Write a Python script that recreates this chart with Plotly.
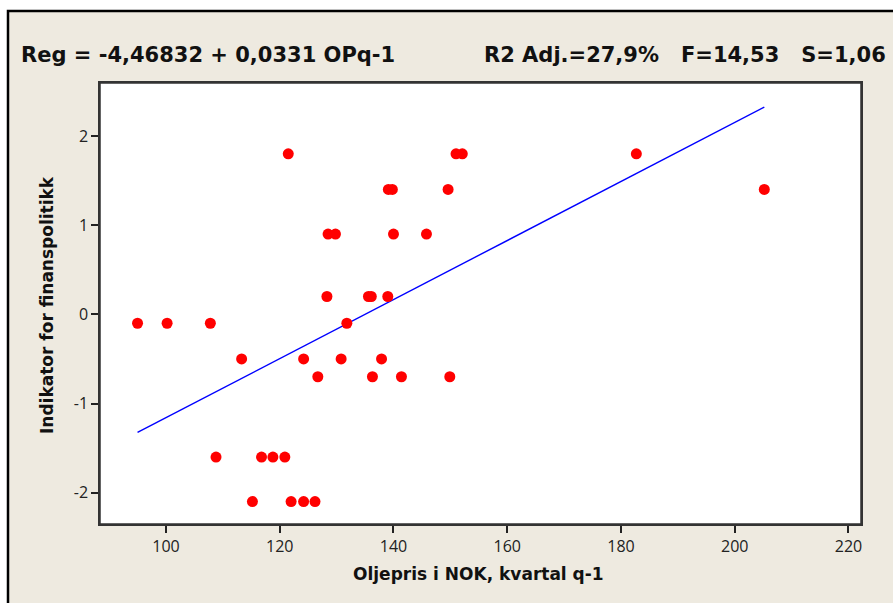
import plotly.graph_objects as go

# Data
oil_price = [121.5, 151.0, 152.1, 182.7,
             139.1, 139.8, 149.6, 205.2,
             128.5, 129.8, 140.0, 145.8,
             128.3, 135.6, 136.1, 139.0,
             95.0, 100.2, 107.8, 131.8,
             113.3, 124.2, 130.8, 137.9,
             126.7, 136.3, 141.4, 149.9,
             108.8, 116.8, 118.8, 120.9,
             115.2, 122.0, 124.2, 126.2]
indicator = [1.8, 1.8, 1.8, 1.8,
             1.4, 1.4, 1.4, 1.4,
             0.9, 0.9, 0.9, 0.9,
             0.2, 0.2, 0.2, 0.2,
             -0.1, -0.1, -0.1, -0.1,
             -0.5, -0.5, -0.5, -0.5,
             -0.7, -0.7, -0.7, -0.7,
             -1.6, -1.6, -1.6, -1.6,
             -2.1, -2.1, -2.1, -2.1]
intercept = -4.46832
slope = 0.0331
x_ticks = [100, 120, 140, 160, 180, 200, 220]
y_ticks = [-2, -1, 0, 1, 2]
y_tick_labels = ["-2", "-1", "0", "1", "2"]

title_left = "Reg = -4,46832 + 0,0331 OPq-1"
title_right = "R2 Adj.=27,9%   F=14,53   S=1,06"
x_title = "Oljepris i NOK, kvartal q-1"
y_title = "Indikator for finanspolitikk"

fit_x = [min(oil_price), max(oil_price)]
fit_y = [intercept + slope * v for v in fit_x]

W, H = 893, 603
L, R, T, B = 100, 32, 83, 79
pw, ph = W - L - R, H - T - B


def px_x(p):
    return (p - L) / pw


def px_y(p):
    return (H - B - p) / ph


BG = "#EEEAE0"

fig = go.Figure()
fig.add_trace(go.Scatter(x=fit_x, y=fit_y, mode="lines",
                         line=dict(color="#0000FF", width=1.4),
                         hoverinfo="skip", showlegend=False))
fig.add_trace(go.Scatter(x=oil_price, y=indicator, mode="markers",
                         marker=dict(color="#FF0000", size=11, line=dict(width=0)),
                         showlegend=False))

shapes = [
    dict(type="rect", xref="paper", yref="paper", layer="below",
         x0=px_x(8), x1=px_x(905), y0=px_y(620), y1=px_y(11),
         fillcolor=BG, line=dict(color="black", width=2.5)),
    dict(type="rect", xref="paper", yref="paper", layer="below",
         x0=0, x1=1, y0=0, y1=1, fillcolor="white",
         line=dict(color="#333333", width=1.5)),
]

tick_font = dict(family="Open Sans, Noto Sans, sans-serif", size=16, color="#222222")
title_font = dict(family="DejaVu Sans, sans-serif", size=21, color="#111111")
axis_title_font = dict(family="DejaVu Sans, sans-serif", size=17, color="#111111")

annotations = [
    dict(text="<b>" + title_left + "</b>", xref="paper", yref="paper",
         x=px_x(19), y=px_y(55), xanchor="left", yanchor="middle",
         showarrow=False, font=title_font),
    dict(text="<b>" + title_right + "</b>", xref="paper", yref="paper",
         x=px_x(888), y=px_y(55), xanchor="right", yanchor="middle",
         showarrow=False, font=title_font),
    dict(text="<b>" + x_title + "</b>", xref="paper", yref="paper",
         x=px_x(478), y=px_y(574), xanchor="center", yanchor="middle",
         showarrow=False, font=axis_title_font),
    dict(text="<b>" + y_title + "</b>", xref="paper", yref="paper",
         x=px_x(47), y=px_y(305), xanchor="center", yanchor="middle",
         textangle=-90, showarrow=False, font=axis_title_font),
]

fig.update_layout(
    width=W, height=H,
    margin=dict(l=L, r=R, t=T, b=B, pad=0),
    paper_bgcolor="white",
    plot_bgcolor="rgba(0,0,0,0)",
    shapes=shapes,
    annotations=annotations,
    xaxis=dict(range=[88.4, 222.2], tickvals=x_ticks, ticks="outside",
               ticklen=7, tickwidth=1.5, tickcolor="#222222",
               showgrid=False, zeroline=False, showline=True,
               linecolor="#333333", linewidth=1.5, mirror=True,
               tickfont=tick_font),
    yaxis=dict(range=[-2.351, 2.594], tickvals=y_ticks, ticktext=y_tick_labels,
               ticks="outside",
               ticklen=7, tickwidth=1.5, tickcolor="#222222",
               showgrid=False, zeroline=False, showline=True,
               linecolor="#333333", linewidth=1.5, mirror=True,
               tickfont=tick_font),
)

fig.write_html("out.html")
